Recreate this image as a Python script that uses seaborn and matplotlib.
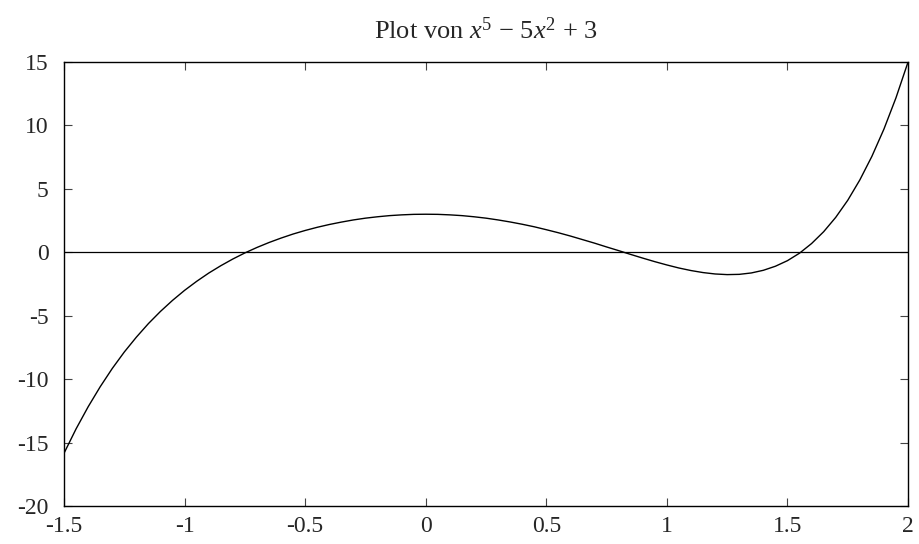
"""
Plot of x^5 - 5x^2 + 3 on [-1.5, 2], values read off the reference picture.
"""

import matplotlib

matplotlib.use("Agg")
import matplotlib.pyplot as plt
import pandas as pd
import seaborn as sns

# x positions (step 0.05) and the curve values
x_values = [
    -1.50, -1.45, -1.40, -1.35, -1.30, -1.25, -1.20, -1.15, -1.10, -1.05,
    -1.00, -0.95, -0.90, -0.85, -0.80, -0.75, -0.70, -0.65, -0.60, -0.55,
    -0.50, -0.45, -0.40, -0.35, -0.30, -0.25, -0.20, -0.15, -0.10, -0.05,
    0.00, 0.05, 0.10, 0.15, 0.20, 0.25, 0.30, 0.35, 0.40, 0.45,
    0.50, 0.55, 0.60, 0.65, 0.70, 0.75, 0.80, 0.85, 0.90, 0.95,
    1.00, 1.05, 1.10, 1.15, 1.20, 1.25, 1.30, 1.35, 1.40, 1.45,
    1.50, 1.55, 1.60, 1.65, 1.70, 1.75, 1.80, 1.85, 1.90, 1.95,
    2.00,
]
y_values = [
    -15.84, -13.92, -12.18, -10.60, -9.16, -7.86, -6.69, -5.62, -4.66, -3.79,
    -3.00, -2.29, -1.64, -1.06, -0.53, -0.05, 0.38, 0.77, 1.12, 1.44,
    1.72, 1.97, 2.19, 2.38, 2.55, 2.69, 2.80, 2.89, 2.95, 2.99,
    3.00, 2.99, 2.95, 2.89, 2.80, 2.69, 2.55, 2.39, 2.21, 2.01,
    1.78, 1.54, 1.28, 1.00, 0.72, 0.42, 0.13, -0.17, -0.46, -0.74,
    -1.00, -1.24, -1.44, -1.60, -1.71, -1.76, -1.74, -1.63, -1.42, -1.10,
    -0.66, -0.07, 0.69, 1.62, 2.75, 4.10, 5.70, 7.56, 9.71, 12.18,
    15.00,
]

x_ticks = [-1.5, -1, -0.5, 0, 0.5, 1, 1.5, 2]
x_tick_labels = ["-1.5", "-1", "-0.5", "0", "0.5", "1", "1.5", "2"]
y_ticks = [-20, -15, -10, -5, 0, 5, 10, 15]
y_tick_labels = ["-20", "-15", "-10", "-5", "0", "5", "10", "15"]

sns.set_theme(style="ticks")
plt.rcParams["font.family"] = ["Liberation Serif", "DejaVu Serif"]
plt.rcParams["mathtext.fontset"] = "custom"
plt.rcParams["mathtext.rm"] = "Liberation Serif"
plt.rcParams["mathtext.it"] = "Liberation Serif:italic"

df = pd.DataFrame({"x": x_values, "y": y_values})

fig = plt.figure(figsize=(9.2, 5.44), dpi=100)
ax = fig.add_axes([0.0696, 0.0699, 0.9174, 0.8161])

ax.axhline(0, color="black", linewidth=0.9)
sns.lineplot(data=df, x="x", y="y", color="black", linewidth=1.0,
             sort=False, estimator=None, ax=ax)

ax.set_xlim(-1.5, 2)
ax.set_ylim(-20, 15)
ax.set_xticks(x_ticks)
ax.set_xticklabels(x_tick_labels)
ax.set_yticks(y_ticks)
ax.set_yticklabels(y_tick_labels)
ax.set_xlabel("")
ax.set_ylabel("")
ax.tick_params(direction="in", length=6, width=0.8, color="#444444",
               labelsize=17, top=True, right=True)
ax.tick_params(axis="x", pad=7)
ax.tick_params(axis="y", pad=11)
for spine in ax.spines.values():
    spine.set_linewidth(1.0)
    spine.set_color("black")

ax.set_title(r"Plot von $x^5$ $-$ $5x^2$ + 3", fontsize=19, pad=17)

fig.savefig("out.png", dpi=100)
plt.close(fig)
